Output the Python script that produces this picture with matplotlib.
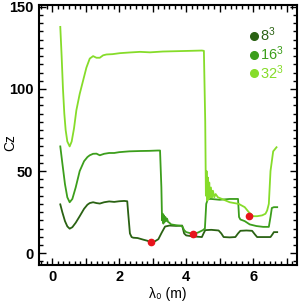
import matplotlib
matplotlib.use("Agg")
from matplotlib import pyplot as plt
from matplotlib.ticker import MultipleLocator
from matplotlib.lines import Line2D

plt.rcParams['font.family'] = ['Liberation Sans', 'DejaVu Sans']

# 8^3 grid
x8 = [0.24, 0.30, 0.38, 0.45, 0.52, 0.60, 0.70, 0.82, 0.95, 1.05, 1.12, 1.22, 1.32, 1.42,
      1.55, 1.70, 1.85, 2.00, 2.15, 2.24, 2.27, 2.32, 2.37, 2.42, 2.55, 2.72, 2.85, 2.94,
      3.05, 3.17, 3.27, 3.37, 3.50, 3.70, 3.88, 3.94, 4.00, 4.20, 4.47, 4.52, 4.57, 4.75,
      4.97, 5.05, 5.12, 5.30, 5.47, 5.55, 5.62, 5.80, 5.97, 6.05, 6.12, 6.30, 6.52, 6.58,
      6.62, 6.72]
y8 = [29.7, 25.0, 19.5, 16.3, 14.9, 15.8, 18.5, 22.5, 27.0, 29.5, 30.5, 31.0, 30.5, 30.2,
      31.0, 31.5, 31.2, 31.6, 31.8, 31.6, 24.0, 12.0, 9.8, 9.4, 9.2, 8.2, 7.5, 6.5,
      7.0, 8.5, 12.5, 16.2, 16.8, 16.6, 16.8, 12.0, 10.8, 10.2, 9.8, 12.0, 14.0, 14.2,
      13.8, 12.0, 9.8, 9.6, 9.8, 12.0, 13.6, 13.8, 13.6, 11.5, 9.8, 9.8, 9.8, 11.5,
      12.8, 12.8]

# 16^3 grid
x16 = [0.24, 0.30, 0.38, 0.45, 0.52, 0.60, 0.70, 0.82, 0.95, 1.05, 1.12, 1.22, 1.32, 1.42,
       1.55, 1.70, 1.85, 2.00, 2.30, 2.62, 2.90, 3.15, 3.22, 3.26, 3.28, 3.30, 3.32, 3.34,
       3.36, 3.38, 3.40, 3.43, 3.46, 3.50, 3.55, 3.70, 3.88, 3.94, 4.00, 4.19, 4.35, 4.50,
       4.56, 4.60, 4.65, 4.75, 5.00, 5.30, 5.55, 5.58, 5.62, 5.75, 5.90, 6.10, 6.30, 6.47,
       6.52, 6.56, 6.62, 6.72]
y16 = [65.0, 55.0, 42.0, 34.0, 31.0, 33.0, 40.0, 50.0, 56.0, 58.5, 59.6, 60.5, 60.6, 59.6,
       60.5, 61.0, 61.0, 61.5, 62.0, 62.2, 62.3, 62.5, 62.5, 40.0, 20.0, 24.0, 18.0, 23.0,
       19.0, 22.0, 19.5, 21.0, 19.0, 18.5, 17.5, 17.0, 16.5, 14.0, 12.8, 11.8, 12.5, 14.0,
       15.0, 30.0, 33.0, 33.0, 32.5, 33.0, 33.0, 22.0, 20.5, 19.5, 17.5, 16.5, 16.0, 16.0,
       22.0, 27.5, 28.0, 28.0]

# 32^3 grid
x32 = [0.24, 0.28, 0.32, 0.36, 0.40, 0.45, 0.52, 0.58, 0.65, 0.72, 0.82, 0.92, 1.02, 1.12,
       1.22, 1.32, 1.42, 1.52, 1.62, 1.80, 2.02, 2.30, 2.62, 2.92, 3.30, 3.70, 4.10, 4.47,
       4.53, 4.57, 4.59, 4.61, 4.63, 4.65, 4.67, 4.69, 4.71, 4.74, 4.77, 4.80, 4.84, 4.88,
       4.95, 5.07, 5.30, 5.57, 5.75, 5.87, 6.00, 6.12, 6.27, 6.37, 6.42, 6.47, 6.52, 6.60,
       6.70]
y32 = [137.8, 120.0, 100.0, 85.0, 75.0, 68.0, 65.0, 68.0, 76.0, 87.0, 97.0, 105.0, 113.0, 118.5,
       120.0, 119.0, 119.0, 120.5, 121.0, 121.2, 121.8, 122.2, 122.6, 122.3, 122.8, 123.0, 123.2, 123.4,
       123.2, 80.0, 35.0, 50.0, 32.0, 46.0, 33.0, 43.0, 34.0, 40.0, 34.0, 38.0, 34.0, 36.0,
       34.0, 33.0, 31.0, 30.0, 28.0, 25.0, 22.5, 22.5, 23.0, 24.0, 26.0, 30.0, 50.0, 62.0,
       64.5]

# minimum points marked in red
xMin = [2.94, 4.19, 5.87]
yMin = [6.5, 11.8, 22.6]

labels = ['8$^3$', '16$^3$', '32$^3$']
colors = ['#2a6213', '#3c9e1c', '#86dc2a']

plt.rcParams['mathtext.fontset'] = 'custom'
plt.rcParams['mathtext.rm'] = 'Liberation Sans'
plt.rcParams['mathtext.it'] = 'Liberation Sans'

fig = plt.figure(figsize=(2.99, 3.07), dpi=100)
ax = fig.add_axes([0.130, 0.138, 0.862, 0.845])

ax.plot(x8, y8, color=colors[0], linewidth=1.3)
ax.plot(x16, y16, color=colors[1], linewidth=1.3)
ax.plot(x32, y32, color=colors[2], linewidth=1.3)
ax.plot(xMin, yMin, 'o', color='#e8141c', markersize=4.5, zorder=5)

ax.set_xlim(-0.4, 7.3)
ax.set_ylim(-7, 151)

# ticks inside on every side
ax.xaxis.set_major_locator(MultipleLocator(1))
ax.xaxis.set_minor_locator(MultipleLocator(1 / 6))
ax.yaxis.set_major_locator(MultipleLocator(50))
ax.yaxis.set_minor_locator(MultipleLocator(5))
ax.set_xticklabels(['' if t % 2 else str(int(t)) for t in ax.get_xticks()])
ax.tick_params(which='both', direction='in', top=True, right=True, width=1.0)
ax.tick_params(which='major', length=5, labelsize=10.5, pad=4)
ax.tick_params(which='minor', length=3)
for lab in ax.get_xticklabels() + ax.get_yticklabels():
    lab.set_fontweight('bold')
for s in ax.spines.values():
    s.set_linewidth(1.5)

ax.set_xlabel('λ₀ (m)', fontsize=10, labelpad=2)
ax.set_ylabel('Cz', fontsize=10)
ax.yaxis.set_label_coords(-0.085, 0.47)

handles = [Line2D([], [], linestyle='none', marker='o', markersize=5.5,
                  markerfacecolor=c, markeredgecolor=c) for c in colors]
ax.legend(handles, labels, loc='upper right', bbox_to_anchor=(0.99, 0.96), frameon=False,
          fontsize=10.5, handlelength=0.6, handletextpad=0.1, labelspacing=0.0,
          borderpad=0.2, labelcolor='markerfacecolor')

fig.savefig('out.png', dpi=100)
